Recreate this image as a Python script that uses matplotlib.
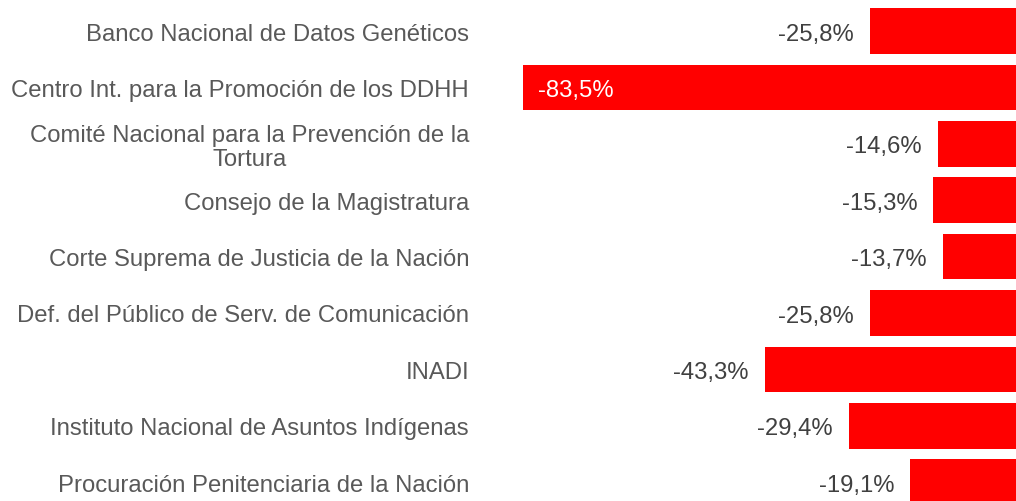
import matplotlib
matplotlib.use("Agg")
import matplotlib.pyplot as plt
import matplotlib.transforms as mtrans

categories = [
    "Banco Nacional de Datos Genéticos",
    "Centro Int. para la Promoción de los DDHH",
    "Comité Nacional para la Prevención de la\nTortura",
    "Consejo de la Magistratura",
    "Corte Suprema de Justicia de la Nación",
    "Def. del Público de Serv. de Comunicación",
    "INADI",
    "Instituto Nacional de Asuntos Indígenas",
    "Procuración Penitenciaria de la Nación",
]
values = [-25.8, -83.5, -14.6, -15.3, -13.7, -25.8, -43.3, -29.4, -19.1]
value_labels = ["-25,8%", "-83,5%", "-14,6%", "-15,3%", "-13,7%", "-25,8%", "-43,3%", "-29,4%", "-19,1%"]

plt.rcParams['font.family'] = ['Liberation Sans', 'DejaVu Sans']

W, H = 1016, 502
fig = plt.figure(figsize=(W / 100, H / 100), dpi=100)
ax_left_px = 508
zero_px = 1025.4
px_per_unit = 6.017
ax = fig.add_axes([ax_left_px / W, 0, (zero_px - ax_left_px) / W, 1])

ypos = list(range(len(categories)))
ax.barh(ypos, values, height=0.81, color="#FF0000")
ax.set_xlim(-(zero_px - ax_left_px) / px_per_unit, 0)
row_px = 56.4
first_px = 32
ax.set_ylim((H - first_px) / row_px, -first_px / row_px)

ax.set_yticks(ypos)
ax.set_yticklabels(categories, fontsize=17.2, color="#595959",
                   multialignment="center", linespacing=1.08)
ax.tick_params(axis="y", length=0, pad=28.0)
ax.set_xticks([])
for s in ax.spines.values():
    s.set_visible(False)

down = mtrans.offset_copy(ax.transData, fig=fig, x=0, y=-2.5, units="dots")
gap = 16 / px_per_unit
for y, v, lab in zip(ypos, values, value_labels):
    if v < -60:
        ax.text(v + 15 / px_per_unit, y, lab, ha="left", va="center",
                fontsize=17.2, color="white", transform=down)
    else:
        ax.text(v - gap, y, lab, ha="right", va="center",
                fontsize=17.2, color="#404040", transform=down)

fig.savefig("out.png", dpi=100)
